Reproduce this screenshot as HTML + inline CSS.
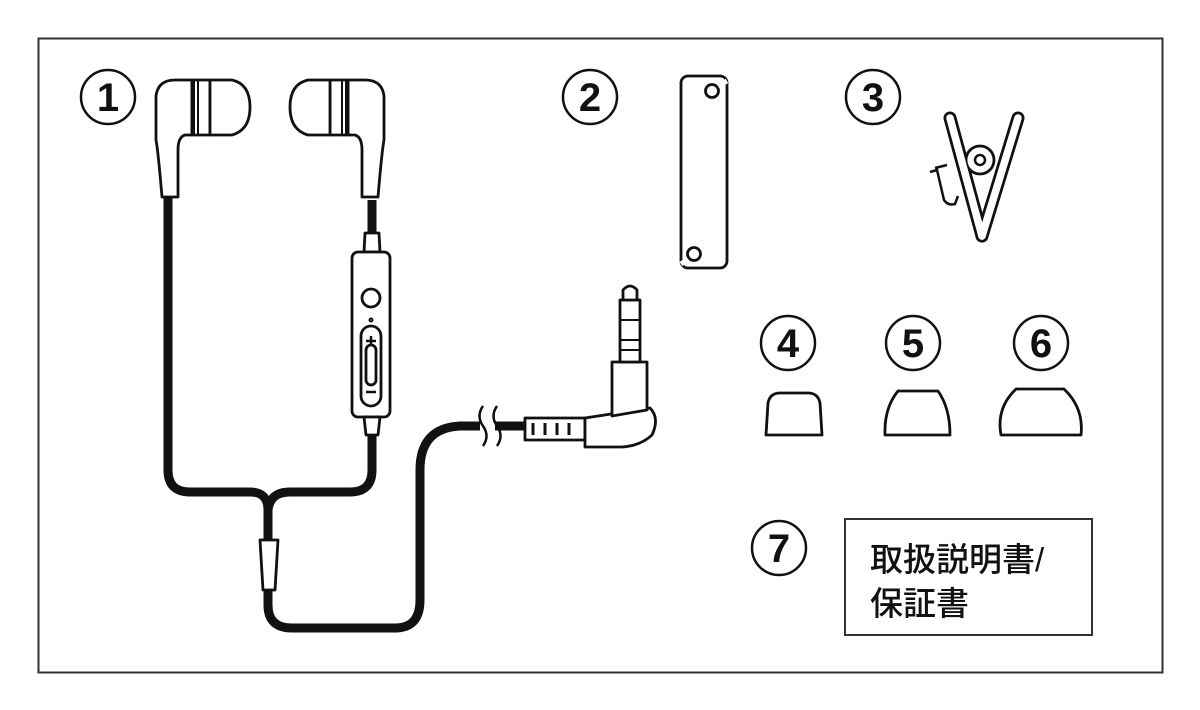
<!DOCTYPE html>
<html><head><meta charset="utf-8"><style>
html,body{margin:0;padding:0;background:#fff;}
svg{display:block;}
.n{font-family:"Liberation Sans",sans-serif;font-weight:bold;font-size:40px;text-anchor:middle;fill:#111;}
.j{font-family:"Liberation Sans","Noto Sans CJK JP",sans-serif;font-size:33px;font-weight:500;fill:#111;}
</style></head><body>
<svg width="1200" height="710" viewBox="0 0 1200 710" xmlns="http://www.w3.org/2000/svg">
<rect x="38.5" y="38.5" width="1124" height="634" fill="#fff" stroke="#333" stroke-width="2"/>
<g fill="none" stroke="#111" stroke-width="2.5">
<circle cx="108" cy="97" r="27"/><circle cx="590" cy="97" r="27"/><circle cx="873" cy="97" r="27"/>
<circle cx="788" cy="343" r="27"/><circle cx="913" cy="343" r="27"/><circle cx="1041" cy="343" r="27"/>
<circle cx="779" cy="548" r="27"/>
</g>
<g class="n">
<text x="108" y="111">1</text><text x="590" y="111">2</text><text x="873" y="111">3</text>
<text x="788" y="357">4</text><text x="913" y="357">5</text><text x="1041" y="357">6</text>
<text x="779" y="562">7</text>
</g>
<g fill="none" stroke="#111" stroke-width="9" stroke-linejoin="round">
<path d="M168 195 V470 Q168 492 190 492 H250 Q268 492 268 510 V545"/>
<path d="M372 200 V235"/>
<path d="M372 430 V470 Q372 492 350 492 H290 Q270 492 268 510"/>
<path d="M268 585 V605 Q268 628 292 628 H395 Q420 628 420 600 V470 Q420 428 460 426 H480"/>
<path d="M495 426 H528"/>
</g>
<g fill="none" stroke="#111" stroke-width="2.5">
<path d="M483 406 Q476 416 483 426 Q490 436 483 446"/>
<path d="M497 406 Q490 416 497 426 Q504 436 497 446"/>
</g>
<g stroke-linecap="round" fill="none">
<path d="M950 118 L982 236" stroke="#111" stroke-width="13"/>
<path d="M1018 118 L982 236" stroke="#111" stroke-width="13"/>
</g>
<circle cx="980" cy="160" r="14" fill="#fff" stroke="#111" stroke-width="2.8"/>
<circle cx="980" cy="160" r="5" fill="#fff" stroke="#111" stroke-width="2.5"/>
<g stroke-linecap="round" fill="none">
<path d="M950 118 L982 236" stroke="#fff" stroke-width="7.5"/>
<path d="M1018 118 L982 236" stroke="#fff" stroke-width="7.5"/>
</g>
<path d="M930 172 L937 170 L944 200 Q948 206 955 204 L958 196 M935 168 L947 165" fill="none" stroke="#111" stroke-width="2.5"/>
<g fill="#fff" stroke="#111" stroke-width="2.8" stroke-linejoin="round">
<path d="M156 96 Q158 80 175 80 H192 V135 H185 Q178 137 178 150 V197 H162 Q158 150 156 140 Z"/>
<path d="M192 80 H210 V135 H192 Z"/>
<path d="M210 80 H232 Q250 84 250 107 Q250 130 232 135 H210 Z"/>
<path d="M384 96 Q382 80 365 80 H348 V135 H355 Q362 137 362 150 V197 H378 Q382 150 384 140 Z"/>
<path d="M348 80 H330 V135 H348 Z"/>
<path d="M330 80 H308 Q290 84 290 107 Q290 130 308 135 H330 Z"/>
<path d="M365 233 H379 L380 252 H364 Z"/>
<rect x="352" y="252" width="38" height="165" rx="6"/>
<path d="M364 417 H380 L378 435 H366 Z"/>
<circle cx="371" cy="298" r="9"/>
<rect x="361" y="326" width="20" height="80" rx="10"/>
<rect x="366" y="345" width="10" height="40" rx="5"/>
<path d="M260 540 H278 L275 590 H263 Z"/>
<path d="M525 418 H585 V440 H525 Z"/>
<path d="M585 418 L650 408 Q660 418 652 435 Q640 446 622 447 H585 Z"/>
<path d="M612 362 H647 V410 L612 416 Z"/>
<path d="M620 300 H640 V362 H620 Z"/>
<path d="M623 300 V290 Q630 282 637 290 V300 Z"/>
<!-- holder -->
<rect x="681" y="76" width="46" height="192" rx="7"/>
<circle cx="712" cy="91" r="6.5"/>
<circle cx="694" cy="254" r="6.5"/>
<path d="M718 86 L727 81 M688 259 L681 264" stroke="#fff" stroke-width="5"/>
<path d="M766 435 L768 403 Q770 393 780 393 H808 Q818 393 820 403 L822 435 Z"/>
<path d="M885 435 Q884 408 898 391 H938 Q950 408 950 435 Z"/>
<path d="M1001 435 Q996 408 1016 389 H1064 Q1084 408 1081 435 Z"/>
</g>
<g fill="none" stroke="#111" stroke-width="2">
<path d="M194 80 V135 M198 80 V135 M346 80 V135 M342 80 V135"/>
<path d="M366 341 h10 M371 336 v10 M366 392 h10" stroke-width="2.5"/>
<path d="M533 423 v12 M545 423 v12 M557 423 v12 M569 423 v12" stroke-width="3"/>
<path d="M620 320 H640 M620 340 H640 M620 350 H640"/>
<circle cx="371" cy="320" r="1.5"/>
</g>
<rect x="845" y="519" width="247" height="116" fill="none" stroke="#333" stroke-width="2"/>
<text class="j" x="870" y="571">取扱説明書/</text>
<text class="j" x="870" y="615">保証書</text>
</svg>
</body></html>
